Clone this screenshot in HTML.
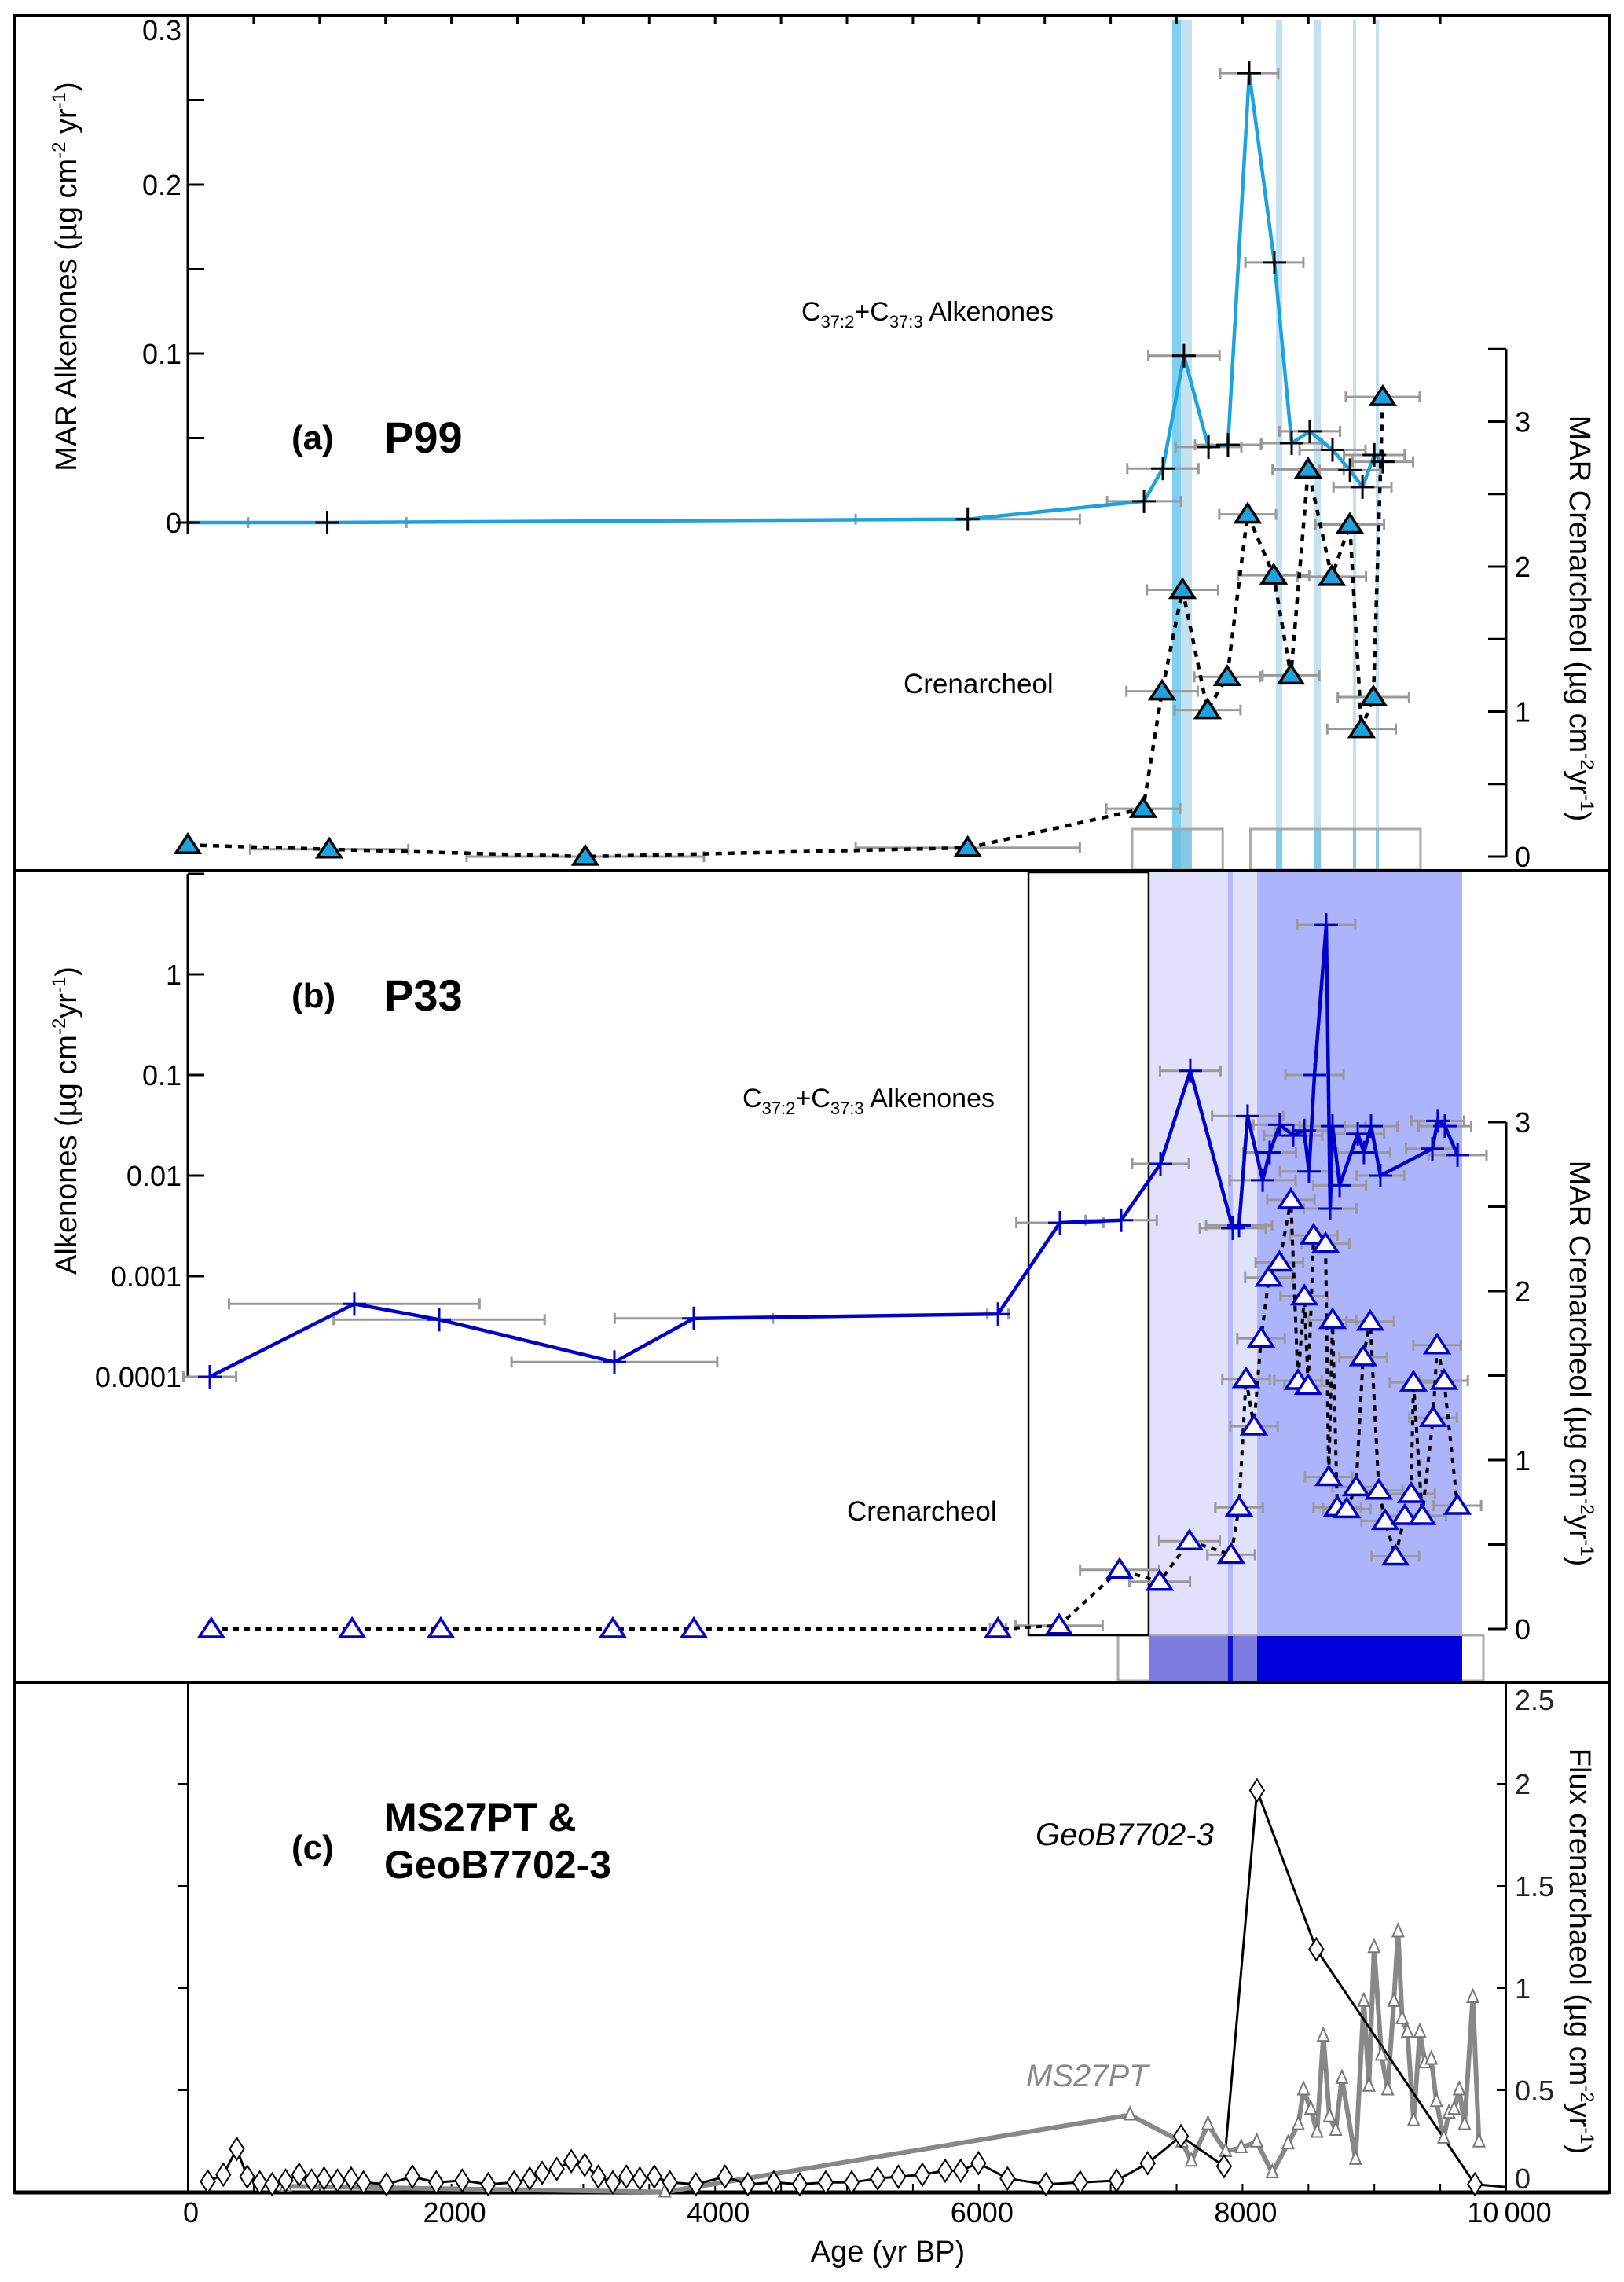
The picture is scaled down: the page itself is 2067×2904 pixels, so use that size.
<!DOCTYPE html>
<html><head><meta charset="utf-8"><style>
html,body{margin:0;padding:0;background:#fff;}
svg{display:block;font-family:"Liberation Sans",Arial,sans-serif;}
</style></head><body>
<svg id="chart" width="2067" height="2904" viewBox="0 0 2067 2904" xmlns="http://www.w3.org/2000/svg">
<rect x="0" y="0" width="2067" height="2904" fill="#fff"/>
<g id="bg"></g><g id="axes"></g><g id="marks"></g><g id="labels"></g>
</svg>
<script>
// ---------- DATA ----------
// Panel (a) P99
const aAlkAge = [0, 1058, 5916, 7253, 7396, 7556, 7742, 7890, 8051, 8242, 8373, 8510, 8683, 8815, 8910, 9000, 9064];
const aAlkVal = [0, 0, 0.002, 0.0126, 0.032, 0.0987, 0.0447, 0.046, 0.266, 0.154, 0.047, 0.054, 0.043, 0.031, 0.021, 0.040, 0.036];
const aAlkErr = [0, 600, 850, 280, 270, 270, 250, 250, 220, 220, 230, 230, 250, 230, 220, 230, 230];
const aCrenAge = [0, 1073, 3015, 5916, 7247, 7390, 7545, 7735, 7884, 8039, 8236, 8367, 8498, 8677, 8814, 8903, 8993, 9064];
const aCrenVal = [0.08, 0.05, 0.0, 0.06, 0.33, 1.14, 1.84, 1.01, 1.24, 2.36, 1.94, 1.25, 2.67, 1.93, 2.29, 0.88, 1.10, 3.17];
const aCrenErr = [0, 600, 900, 850, 280, 270, 270, 250, 250, 215, 270, 215, 270, 260, 260, 260, 270, 280];
const aBandLight = [[7467, 7616], [8254, 8302], [8540, 8594], [8838, 8862], [9011, 9035]];
const aBandDark = [[7467, 7533]];
const aBoxes = [[7163, 7850], [8060, 9350]];
const aLeftTicks = [0, 0.1, 0.2, 0.3];
const aRightTicks = [0, 1, 2, 3];
// Panel (b) P33
const bAlkAge = [167, 1263, 1907, 3236, 3838, 6145, 6615, 7080, 7378, 7604, 7926, 7974, 8039, 8153, 8206, 8283, 8385, 8468, 8504, 8546, 8635, 8665, 8683, 8737, 8874, 8921, 8975, 9046, 9440, 9481, 9535, 9631];
const bAlkVal = [0.0001, 0.00053, 0.00037, 0.00014, 0.00038, 0.00042, 0.0034, 0.0036, 0.0131, 0.11, 0.0030, 0.0032, 0.039, 0.0090, 0.017, 0.032, 0.025, 0.028, 0.011, 0.10, 3.1, 0.0047, 0.031, 0.008, 0.026, 0.017, 0.031, 0.010, 0.0185, 0.035, 0.031, 0.016];
const bAlkErr = [200, 950, 800, 780, 600, 80, 330, 270, 215, 230, 250, 250, 270, 250, 200, 200, 220, 220, 220, 220, 220, 200, 250, 200, 200, 200, 200, 180, 200, 200, 200, 220];
const bCrenAge = [178, 1246, 1919, 3224, 3838, 6145, 6609, 7068, 7372, 7598, 7914, 7974, 8027, 8087, 8141, 8200, 8280, 8367, 8421, 8469, 8498, 8540, 8630, 8654, 8683, 8719, 8791, 8862, 8915, 8969, 9034, 9082, 9160, 9231, 9279, 9297, 9363, 9446, 9476, 9529, 9630];
const bCrenVal = [0, 0, 0, 0, 0, 0, 0.02, 0.35, 0.28, 0.52, 0.44, 0.72, 1.48, 1.20, 1.72, 2.08, 2.17, 2.54, 1.47, 1.97, 1.44, 2.33, 2.28, 0.90, 1.83, 0.72, 0.71, 0.84, 1.61, 1.82, 0.82, 0.64, 0.43, 0.67, 0.80, 1.46, 0.67, 1.25, 1.68, 1.47, 0.73];
const bCrenErr = [0, 0, 0, 0, 0, 60, 330, 300, 230, 230, 180, 180, 180, 180, 180, 180, 180, 180, 180, 180, 180, 180, 180, 180, 180, 180, 180, 180, 180, 180, 180, 180, 180, 180, 180, 180, 180, 180, 180, 180, 180];
const bLeftTicks = [0.0001, 0.001, 0.01, 0.1, 1, 10];
const bLeftLabels = ["0.0001", "0.001", "0.01", "0.1", "1", ""];
const bRightTicks = [0, 1, 2, 3];
const bRect = [6377, 7288];
const bLightBand = [7288, 8111];
const bThinBand = [7890, 7926];
const bDarkBand = [8111, 9666];
const bStrip = [7056, 9827];
// Panel (c) MS27PT & GeoB7702-3
const cGeoAge = [152, 270, 372, 451, 546, 640, 742, 845, 939, 1034, 1136, 1239, 1333, 1507, 1704, 1885, 2082, 2279, 2476, 2594, 2688, 2799, 2909, 3011, 3114, 3224, 3326, 3429, 3539, 3657, 3854, 4075, 4248, 4445, 4642, 4839, 5036, 5233, 5390, 5572, 5745, 5863, 5997, 6218, 6509, 6769, 7045, 7281, 7533, 7860, 8110, 8560, 9763, 10000];
const cGeoVal = [0.053, 0.087, 0.213, 0.077, 0.049, 0.040, 0.058, 0.087, 0.058, 0.068, 0.058, 0.068, 0.049, 0.040, 0.077, 0.049, 0.058, 0.040, 0.049, 0.068, 0.096, 0.115, 0.153, 0.134, 0.077, 0.049, 0.077, 0.068, 0.077, 0.049, 0.040, 0.077, 0.040, 0.049, 0.040, 0.049, 0.049, 0.068, 0.077, 0.087, 0.106, 0.106, 0.143, 0.068, 0.040, 0.049, 0.058, 0.143, 0.275, 0.128, 1.968, 1.19, 0.04, 0.026];
const cMsAge = [742, 3618, 7147, 7541, 7612, 7738, 7872, 7990, 8108, 8226, 8345, 8423, 8463, 8518, 8565, 8613, 8660, 8707, 8754, 8857, 8920, 8959, 8998, 9054, 9101, 9148, 9180, 9211, 9251, 9298, 9345, 9385, 9432, 9471, 9526, 9566, 9605, 9644, 9684, 9747, 9794];
const cMsVal = [0.030, 0.002, 0.379, 0.247, 0.153, 0.332, 0.200, 0.219, 0.247, 0.096, 0.238, 0.332, 0.502, 0.407, 0.294, 0.765, 0.370, 0.304, 0.558, 0.162, 0.935, 0.520, 1.199, 0.671, 0.502, 0.935, 1.275, 0.850, 0.784, 0.351, 0.784, 0.634, 0.652, 0.445, 0.266, 0.388, 0.407, 0.502, 0.332, 0.954, 0.247];
const cRightTicks = [0, 0.5, 1, 1.5, 2, 2.5];
const cRightLabels = ["0", "0.5", "1", "1.5", "2", "2.5"];
const xTicks = [0, 2000, 4000, 6000, 8000, 10000];
const xLabels = ["0", "2000", "4000", "6000", "8000", "10\u2009000"];

// ---------- SCALES ----------
const X0 = 239, XS = 0.1678;
function xA(a) { return X0 + XS * a; }
function yAlkA(v) { return 665 - v * 2150; }
function yCrenA(c) { return 1090 - c * 184.5; }
function yAlkB(v) { return 1240 - 128 * Math.log10(v); }
function yCrenB(c) { return 2073 - c * 215; }
function yFluxC(f) { return 2790 - f * 260; }

const NS = "http://www.w3.org/2000/svg";
const gBg = document.getElementById('bg');
const gAx = document.getElementById('axes');
const gM = document.getElementById('marks');
const gL = document.getElementById('labels');
function el(tag, attrs, parent) {
  const e = document.createElementNS(NS, tag);
  for (const k in attrs) e.setAttribute(k, attrs[k]);
  parent.appendChild(e);
  return e;
}
function line(x1, y1, x2, y2, stroke, w, parent) {
  return el('line', {x1: x1, y1: y1, x2: x2, y2: y2, stroke: stroke, 'stroke-width': w}, parent);
}

// ---------- BACKGROUND BANDS ----------
aBandLight.forEach(function (b) {
  const r = el('rect', {x: xA(b[0]), y: 25, width: xA(b[1]) - xA(b[0]), height: 1082, fill: '#c3e1ef'}, gBg);
  
  
});
aBandDark.forEach(function (b) {
  const r = el('rect', {x: xA(b[0]), y: 25, width: xA(b[1]) - xA(b[0]), height: 1082, fill: '#7fd0f0'}, gBg);
  
  
});
aBoxes.forEach(function (b) {
  const r = el('rect', {x: xA(b[0]), y: 1055, width: xA(b[1]) - xA(b[0]), height: 52, fill: 'none', stroke: '#aaa', 'stroke-width': 3}, gBg);
  
  
});
aBandLight.forEach(function (b) {
  const r = el('rect', {x: xA(b[0]), y: 1055, width: xA(b[1]) - xA(b[0]), height: 52, fill: '#5fb8d8', opacity: 0.6}, gBg);
  
  
});
(function () {
  let r = el('rect', {x: xA(bLightBand[0]), y: 1110, width: xA(bLightBand[1]) - xA(bLightBand[0]), height: 971, fill: '#e1e1fc'}, gBg);
  
  
  r = el('rect', {x: xA(bThinBand[0]), y: 1110, width: xA(bThinBand[1]) - xA(bThinBand[0]), height: 971, fill: '#b4b9f8'}, gBg);
  
  
  r = el('rect', {x: xA(bDarkBand[0]), y: 1110, width: xA(bDarkBand[1]) - xA(bDarkBand[0]), height: 971, fill: '#adb4fb'}, gBg);
  
  
  r = el('rect', {x: xA(bStrip[0]), y: 2081, width: xA(bStrip[1]) - xA(bStrip[0]), height: 58, fill: 'none', stroke: '#aaa', 'stroke-width': 3}, gBg);
  
  
  r = el('rect', {x: xA(bLightBand[0]), y: 2082, width: xA(bLightBand[1]) - xA(bLightBand[0]), height: 57, fill: '#7b7be0'}, gBg);
  
  
  r = el('rect', {x: xA(bThinBand[0]), y: 2082, width: xA(bThinBand[1]) - xA(bThinBand[0]), height: 57, fill: '#1010d0'}, gBg);
  
  
  r = el('rect', {x: xA(bDarkBand[0]), y: 2082, width: xA(bDarkBand[1]) - xA(bDarkBand[0]), height: 57, fill: '#0000dc'}, gBg);
  
  
  r = el('rect', {x: xA(bRect[0]), y: 1110, width: xA(bRect[1]) - xA(bRect[0]), height: 971, fill: 'none', stroke: '#000', 'stroke-width': 2.5}, gBg);
  
  
})();

// ---------- FRAMES & AXES ----------
(function () {
  let f = el('rect', {x: 18, y: 20, width: 2030, height: 2770, fill: 'none', stroke: '#000', 'stroke-width': 4}, gAx);
  
  
  f = line(18, 1108, 2048, 1108, '#000', 4, gAx);
  
  
  f = line(18, 2141, 2048, 2141, '#000', 4, gAx);
  
  
  f = line(18, 2790, 2048, 2790, '#000', 5, gAx);
  
  
})();
for (let a = 500; a < 10000; a += 500) {
  let t = line(xA(a), 20, xA(a), 31, '#000', 3, gAx);
  
  
  t = line(xA(a), 2790, xA(a), 2779, '#000', 2, gAx);
  
  
}
function txt(x, y, s, size, anchor, parent, extra) {
  const t = el('text', Object.assign({x: x, y: y, 'font-size': size, 'text-anchor': anchor || 'start', fill: '#000'}, extra || {}), parent);
  t.textContent = s;
  return t;
}
(function () {
  let ax = line(X0, 20, X0, yAlkA(0), '#000', 3, gAx);
  
  
  for (let v = 0.05; v < 0.3; v += 0.1) {
    const t = line(X0, yAlkA(v), X0 + 21, yAlkA(v), '#000', 3, gAx);
    
    
  }
  aLeftTicks.forEach(function (v) {
    const t = line(X0, yAlkA(v), X0 + 21, yAlkA(v), '#000', 3, gAx);
    
    
    const lb = txt(X0 - 8, yAlkA(v) + 13 + (v === 0.3 ? 18 : 0), String(v), 36, 'end', gAx);
    
    
  });
  const d = line(X0 - 12, yAlkA(0), X0, yAlkA(0), '#000', 3, gAx);
  
  
  ax = line(1917, yCrenA(3.5), 1917, yCrenA(0), '#000', 3, gAx);
  
  
  for (let c = 0; c <= 3.5; c += 0.5) {
    const t = line(1894, yCrenA(c), 1917, yCrenA(c), '#000', 3, gAx);
    
    
  }
  aRightTicks.forEach(function (c) {
    const lb = txt(1928, yCrenA(c) + 13, String(c), 36, 'start', gAx);
    
    
  });
})();
(function () {
  let ax = line(X0, yAlkB(10), X0, yAlkB(0.0001), '#000', 3, gAx);
  
  
  bLeftTicks.forEach(function (v, i) {
    const t = line(X0, yAlkB(v), X0 + 21, yAlkB(v), '#000', 3, gAx);
    
    
    if (bLeftLabels[i]) {
      const lb = txt(X0 - 8, yAlkB(v) + 13, bLeftLabels[i], 36, 'end', gAx);
      
      
    }
  });
  ax = line(1917, yCrenB(3), 1917, yCrenB(0), '#000', 3, gAx);
  
  
  for (let c = 0; c <= 3; c += 0.5) {
    const t = line(1894, yCrenB(c), 1917, yCrenB(c), '#000', 3, gAx);
    
    
  }
  bRightTicks.forEach(function (c) {
    const lb = txt(1928, yCrenB(c) + 13, String(c), 36, 'start', gAx);
    
    
  });
})();
(function () {
  let ax = line(X0, 2141, X0, 2790, '#000', 2, gAx);
  
  
  ax = line(1917, 2141, 1917, 2790, '#000', 2, gAx);
  
  
  cRightTicks.forEach(function (f, i) {
    let t = line(X0 - 12, yFluxC(f), X0, yFluxC(f), '#000', 2, gAx);
    
    
    t = line(1905, yFluxC(f), 1917, yFluxC(f), '#000', 2, gAx);
    
    
    let yy = yFluxC(f) + 13;
    if (f === 0) yy = 2785;
    if (f === 2.5) yy = 2176;
    const lb = txt(1928, yy, cRightLabels[i], 36, 'start', gAx, {fill: '#222'});
    
    
  });
  xTicks.forEach(function (a, i) {
    const lb = txt(xA(a) + 4, 2828, xLabels[i], 36, 'middle', gAx);
    
    
  });
})();

// ---------- MARKS ----------
function errBar(x1, x2, y, parent) {
  const g = el('g', {stroke: '#999', 'stroke-width': 3}, parent);
  line(x1, y, x2, y, '#999', 3, g);
  line(x1, y - 7, x1, y + 7, '#999', 3, g);
  line(x2, y - 7, x2, y + 7, '#999', 3, g);
  return g;
}
function cross(x, y, color, w, parent) {
  const g = el('g', {}, parent);
  line(x - 15, y, x + 15, y, color, w, g);
  line(x, y - 15, x, y + 15, color, w, g);
  return g;
}
function tri(x, y, fill, stroke, parent) {
  return el('polygon', {points: (x - 15) + ',' + (y + 10) + ' ' + (x + 15) + ',' + (y + 10) + ' ' + x + ',' + (y - 13), fill: fill, stroke: stroke, 'stroke-width': 3.5, 'stroke-linejoin': 'miter'}, parent);
}
function pts(ages, vals, fy) {
  return ages.map(function (a, i) { return xA(a).toFixed(1) + ',' + fy(vals[i]).toFixed(1); }).join(' ');
}

aAlkAge.forEach(function (a, i) {
  if (aAlkErr[i] > 0) {
    const g = errBar(xA(a - aAlkErr[i]), xA(a + aAlkErr[i]), yAlkA(aAlkVal[i]), gM);
    
    
  }
});
aCrenAge.forEach(function (a, i) {
  if (aCrenErr[i] > 0) {
    const g = errBar(xA(a - aCrenErr[i]), xA(a + aCrenErr[i]), yCrenA(aCrenVal[i]), gM);
    
    
  }
});
(function () {
  let p = el('polyline', {points: pts(aAlkAge, aAlkVal, yAlkA), fill: 'none', stroke: '#1ba3df', 'stroke-width': 4.5, 'stroke-linejoin': 'round'}, gM);
  
  
  p = el('polyline', {points: pts(aCrenAge, aCrenVal, yCrenA), fill: 'none', stroke: '#000', 'stroke-width': 4.5, 'stroke-dasharray': '8,8'}, gM);
  
  
})();
aAlkAge.forEach(function (a, i) {
  const c = cross(xA(a), yAlkA(aAlkVal[i]), '#000', 3, gM);
  
  
});
aCrenAge.forEach(function (a, i) {
  const t = tri(xA(a), yCrenA(aCrenVal[i]), '#1ba3df', '#000', gM);
  
  
});

bAlkAge.forEach(function (a, i) {
  const g = errBar(xA(a - bAlkErr[i]), xA(a + bAlkErr[i]), yAlkB(bAlkVal[i]), gM);
  
  
});
bCrenAge.forEach(function (a, i) {
  if (bCrenErr[i] > 0) {
    const g = errBar(xA(a - bCrenErr[i]), xA(a + bCrenErr[i]), yCrenB(bCrenVal[i]), gM);
    
    
  }
});
(function () {
  let p = el('polyline', {points: pts(bAlkAge, bAlkVal, yAlkB), fill: 'none', stroke: '#0000cc', 'stroke-width': 4.5, 'stroke-linejoin': 'miter'}, gM);
  
  
  p = el('polyline', {points: pts(bCrenAge, bCrenVal, yCrenB), fill: 'none', stroke: '#000', 'stroke-width': 4, 'stroke-dasharray': '7,7'}, gM);
  
  
})();
bAlkAge.forEach(function (a, i) {
  const c = cross(xA(a), yAlkB(bAlkVal[i]), '#0000cc', 3, gM);
  
  
});
bCrenAge.forEach(function (a, i) {
  const t = tri(xA(a), yCrenB(bCrenVal[i]), '#fff', '#0000cc', gM);
  
  
});

(function () {
  let p = el('polyline', {points: pts(cMsAge, cMsVal, yFluxC), fill: 'none', stroke: '#888', 'stroke-width': 6, 'stroke-linejoin': 'round'}, gM);
  
  
  p = el('polyline', {points: pts(cGeoAge, cGeoVal, yFluxC), fill: 'none', stroke: '#000', 'stroke-width': 3, 'stroke-linejoin': 'round'}, gM);
  
  
})();
cMsAge.forEach(function (a, i) {
  const x = xA(a), y = yFluxC(cMsVal[i]);
  const t = el('polygon', {points: (x - 7) + ',' + (y + 6) + ' ' + (x + 7) + ',' + (y + 6) + ' ' + x + ',' + (y - 10), fill: '#fff', stroke: '#777', 'stroke-width': 2}, gM);
  
  
});
cGeoAge.forEach(function (a, i) {
  if (a >= 10000) return;
  const x = xA(a), y = yFluxC(cGeoVal[i]);
  const d = el('polygon', {points: (x - 9) + ',' + y + ' ' + x + ',' + (y - 14) + ' ' + (x + 9) + ',' + y + ' ' + x + ',' + (y + 14), fill: '#fff', stroke: '#000', 'stroke-width': 2}, gM);
  
  
});
</script>

<svg style="position:absolute;left:0;top:0" width="2067" height="2904" viewBox="0 0 2067 2904" xmlns="http://www.w3.org/2000/svg" font-family="Liberation Sans, Arial, sans-serif">
  <text transform="translate(97,352) rotate(-90)" text-anchor="middle" font-size="38">MAR Alkenones (µg cm<tspan font-size="24" dy="-14">-2</tspan><tspan dy="14"> yr</tspan><tspan font-size="24" dy="-14">-1</tspan><tspan dy="14">)</tspan></text>
  <text transform="translate(97,1426) rotate(-90)" text-anchor="middle" font-size="38">Alkenones (µg cm<tspan font-size="24" dy="-14">-2</tspan><tspan dy="14">yr</tspan><tspan font-size="24" dy="-14">-1</tspan><tspan dy="14">)</tspan></text>
  <text transform="translate(1998,787) rotate(90)" text-anchor="middle" font-size="38">MAR Crenarcheol (µg cm<tspan font-size="24" dy="-14">-2</tspan><tspan dy="14">yr</tspan><tspan font-size="24" dy="-14">-1</tspan><tspan dy="14">)</tspan></text>
  <text transform="translate(1998,1735) rotate(90)" text-anchor="middle" font-size="38">MAR Crenarcheol  (µg cm<tspan font-size="24" dy="-14">-2</tspan><tspan dy="14">yr</tspan><tspan font-size="24" dy="-14">-1</tspan><tspan dy="14">)</tspan></text>
  <text transform="translate(1998,2483) rotate(90)" text-anchor="middle" font-size="38">Flux crenarchaeol (µg cm<tspan font-size="24" dy="-14">-2</tspan><tspan dy="14">yr</tspan><tspan font-size="24" dy="-14">-1</tspan><tspan dy="14">)</tspan></text>
  <text x="1130" y="2878" text-anchor="middle" font-size="38">Age (yr BP)</text>
  <text x="371" y="572" font-size="44" font-weight="bold">(a)</text>
  <text x="489" y="576" font-size="56" font-weight="bold">P99</text>
  <text x="371" y="1282" font-size="44" font-weight="bold">(b)</text>
  <text x="489" y="1286" font-size="56" font-weight="bold">P33</text>
  <text x="371" y="2366" font-size="44" font-weight="bold">(c)</text>
  <text x="489" y="2330" font-size="50" font-weight="bold">MS27PT &amp;</text>
  <text x="489" y="2390" font-size="50" font-weight="bold">GeoB7702-3</text>
  <text x="1020" y="408" font-size="34">C<tspan font-size="22" dy="9">37:2</tspan><tspan dy="-9">+C</tspan><tspan font-size="22" dy="9">37:3</tspan><tspan dy="-9"> Alkenones</tspan></text>
  <text x="1150" y="882" font-size="35">Crenarcheol</text>
  <text x="945" y="1409" font-size="34">C<tspan font-size="22" dy="9">37:2</tspan><tspan dy="-9">+C</tspan><tspan font-size="22" dy="9">37:3</tspan><tspan dy="-9"> Alkenones</tspan></text>
  <text x="1078" y="1935" font-size="35">Crenarcheol</text>
  <text x="1318" y="2348" font-size="40" font-style="italic">GeoB7702-3</text>
  <text x="1306" y="2655" font-size="40" font-style="italic" fill="#888">MS27PT</text>
</svg>
</body></html>
